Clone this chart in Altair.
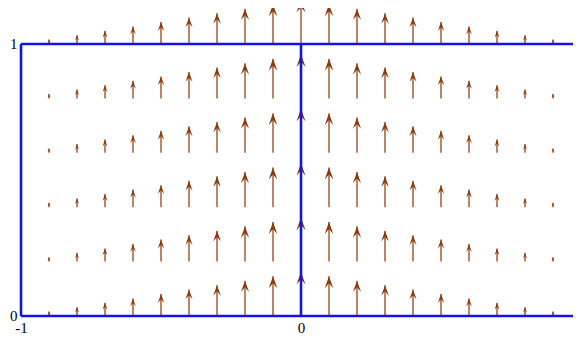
import altair as alt
import pandas as pd

# ---- data ----
x_positions = [-0.9, -0.8, -0.7, -0.6, -0.5, -0.4, -0.3, -0.2, -0.1, 0.0,
               0.1, 0.2, 0.3, 0.4, 0.5, 0.6, 0.7, 0.8, 0.9]
magnitudes = [0.1, 0.2, 0.3, 0.4, 0.5, 0.6, 0.7, 0.8, 0.9, 1.0,
              0.9, 0.8, 0.7, 0.6, 0.5, 0.4, 0.3, 0.2, 0.1]
y_rows = [0.0, 0.2, 0.4, 0.6, 0.8, 1.0]
x_ticks = [-1, 0]
y_ticks = [0, 1]
hline_y = [0.0, 1.0]
hline_x0 = [-1.0, -1.0]
hline_x1 = [1.0, 1.0]
vline_x = [-1.0, 0.0]
vline_y0 = [0.0, 0.0]
vline_y1 = [1.0, 1.0]

ARROW_SCALE = 0.162  # data units of y per unit magnitude
Y_MAX = 1.1324
X_MAX = 0.9714       # right part of the view that fits in the window

rows = []
for yr in y_rows:
    for xv, m in zip(x_positions, magnitudes):
        rows.append({"x": xv, "y": yr, "m": m, "yend": yr + m * ARROW_SCALE})
arrows = pd.DataFrame(rows)
hlines = pd.DataFrame({"y": hline_y, "x": hline_x0, "x2": hline_x1})
vlines = pd.DataFrame({"x": vline_x, "y": vline_y0, "y2": vline_y1})

FONT = "Liberation Serif"
xscale = alt.Scale(domain=[-1, X_MAX], nice=False, zero=False)
yscale = alt.Scale(domain=[0, Y_MAX], nice=False, zero=False)
xaxis = alt.Axis(values=x_ticks, ticks=False, domain=False, grid=False,
                 labelFont=FONT, labelFontSize=15, labelColor="black",
                 labelPadding=4, title=None, labelFlush=False,
                 labelExpr="'' + datum.value")
yaxis = alt.Axis(values=y_ticks, ticks=False, domain=False, grid=False,
                 labelFont=FONT, labelFontSize=15, labelColor="black",
                 labelPadding=4, labelOffset=-1, title=None, labelFlush=False,
                 labelExpr="'' + datum.value")

shafts = alt.Chart(arrows).mark_rule(color="#A86840", strokeWidth=1.6).encode(
    x=alt.X("x:Q", scale=xscale, axis=xaxis),
    y=alt.Y("y:Q", scale=yscale, axis=yaxis),
    y2="yend:Q",
)

head_path = "M0,0 L0.36,1 L0,0.58 L-0.36,1 Z"
heads = alt.Chart(arrows).mark_point(
    shape=head_path, filled=True, color="#8B3A0E", opacity=1, strokeWidth=0
).encode(
    x=alt.X("x:Q", scale=xscale, axis=xaxis),
    y=alt.Y("yend:Q", scale=yscale, axis=yaxis),
    size=alt.Size("m:Q", scale=alt.Scale(domain=[0, 1], range=[0, 640]), legend=None),
)

h_rules = alt.Chart(hlines).mark_rule(color="#1414E0", strokeWidth=2.6).encode(
    x=alt.X("x:Q", scale=xscale, axis=xaxis),
    x2="x2:Q",
    y=alt.Y("y:Q", scale=yscale, axis=yaxis),
)
v_rules = alt.Chart(vlines).mark_rule(color="#1414E0", strokeWidth=2.6).encode(
    x=alt.X("x:Q", scale=xscale, axis=xaxis),
    y=alt.Y("y:Q", scale=yscale, axis=yaxis),
    y2="y2:Q",
)

chart = alt.layer(shafts, heads, h_rules, v_rules).properties(
    width=552,
    height=308,
    autosize=alt.AutoSizeParams(type="none"),
    padding={"left": 13, "top": 0, "right": 0, "bottom": 19},
    background="white",
).configure_view(stroke=None)

chart.save("out.html", embed_options={"renderer": "svg", "actions": False})
